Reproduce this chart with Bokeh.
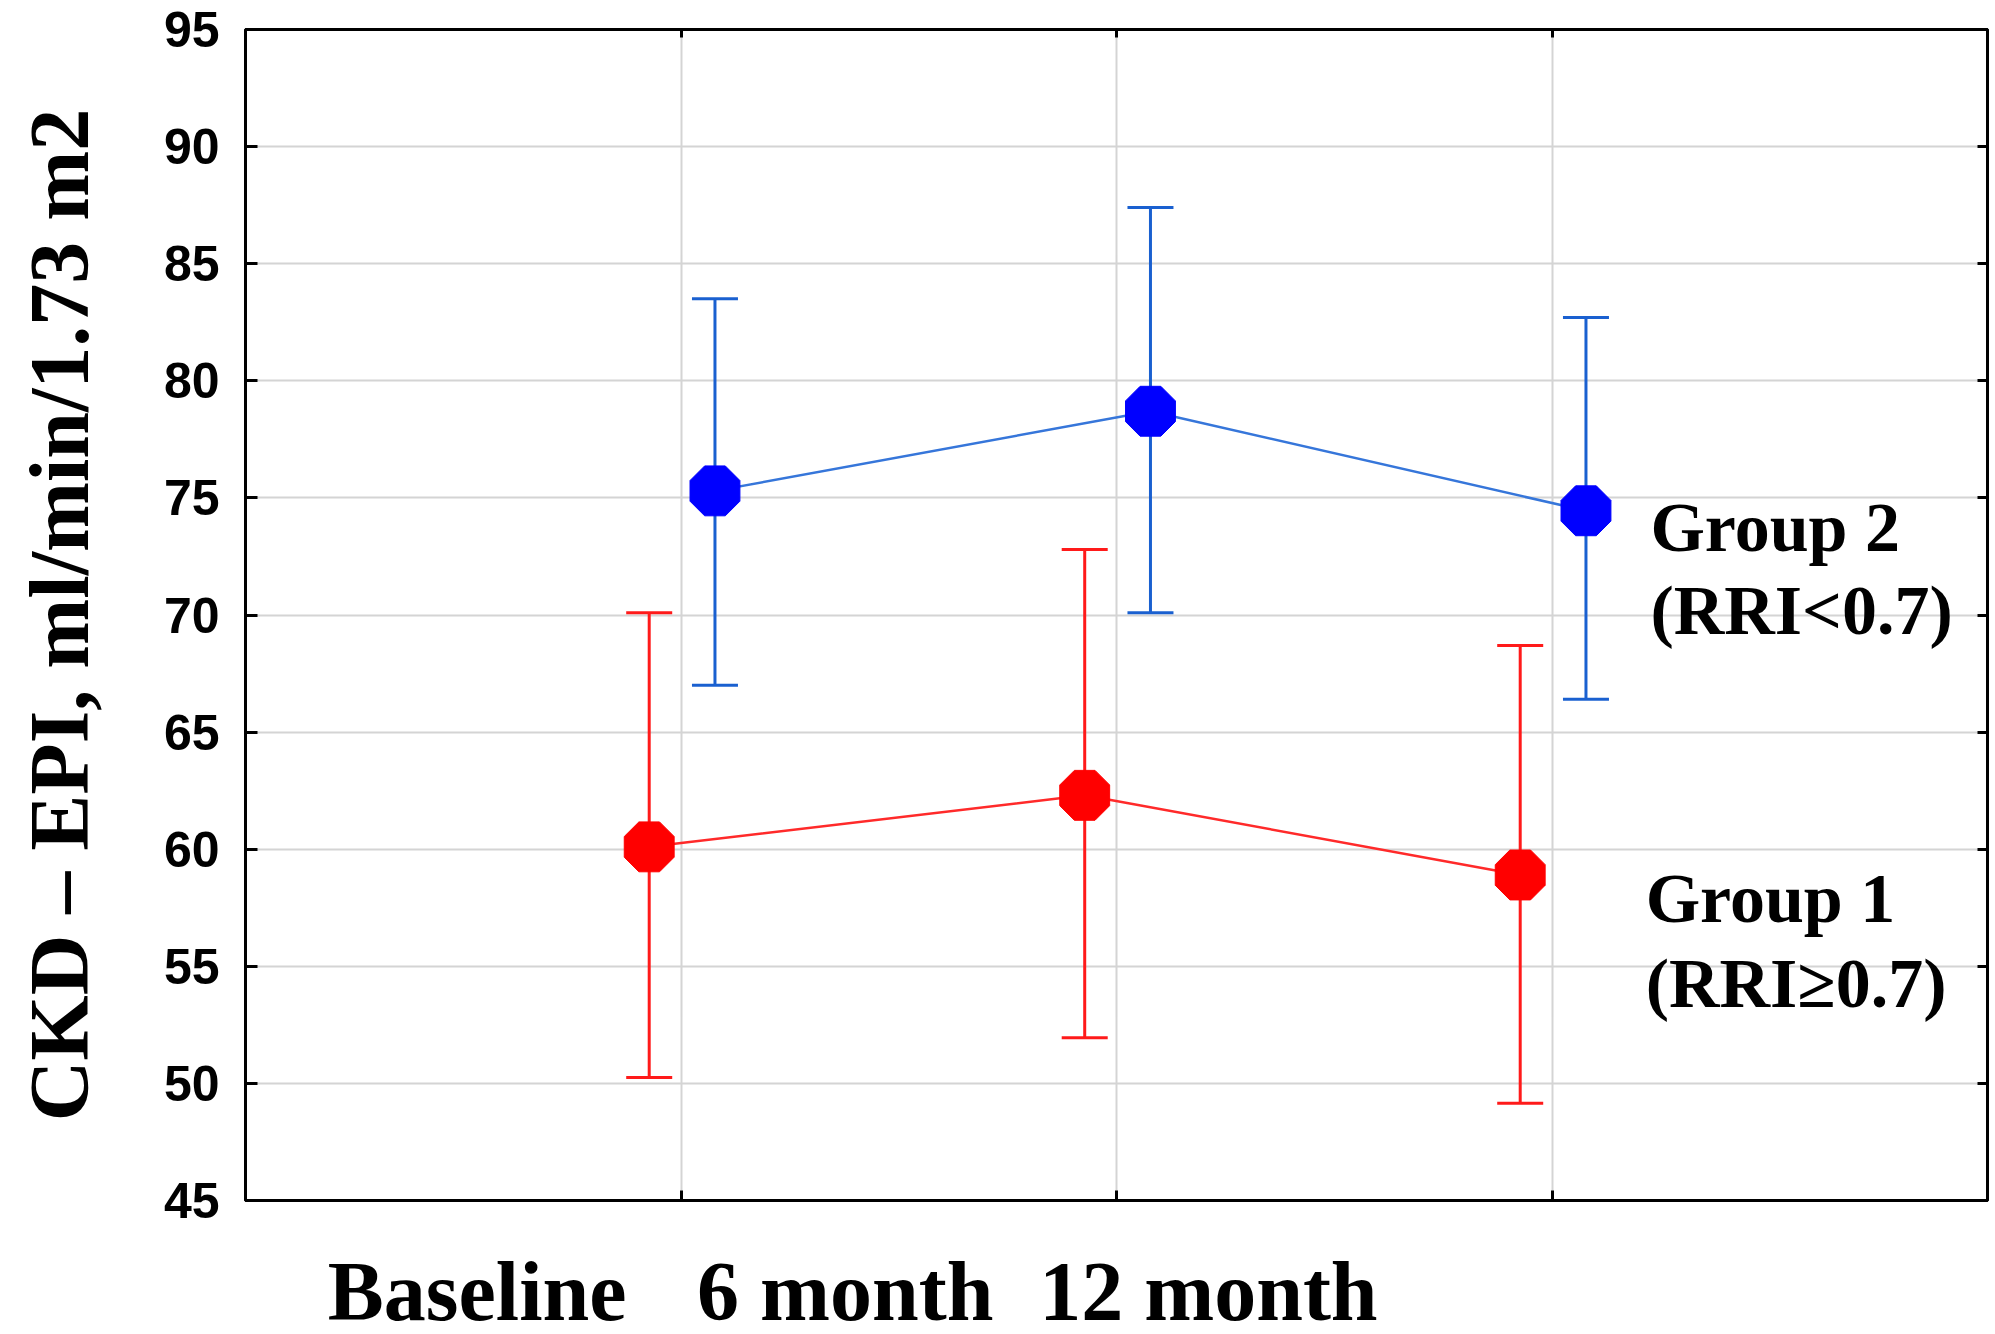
from math import pi
from bokeh.plotting import figure
from bokeh.models import (ColumnDataSource, Range1d, FixedTicker, LinearAxis,
                          Whisker, TeeHead)
from bokeh.core.properties import value
from bokeh.embed import file_html
from bokeh.resources import INLINE

# ---------------- data ----------------
timepoints = ["Baseline", "6 month", "12 month"]
time_index = [1, 2, 3]

g1_mean = [60.1, 62.3, 58.9]
g1_upper = [70.1, 72.8, 68.7]
g1_lower = [50.25, 51.95, 49.15]

g2_mean = [75.3, 78.7, 74.45]
g2_upper = [83.5, 87.4, 82.7]
g2_lower = [67.0, 70.1, 66.4]

y_ticks = [45, 50, 55, 60, 65, 70, 75, 80, 85, 90, 95]

group_label_lines = ["Group 2", "(RRI<0.7)", "Group 1", "(RRI\u22650.7)"]
y_title = "CKD \u2013 EPI, ml/min/1.73 m2"

# ---------------- layout constants ----------------
G1_SHIFT = -0.073
G2_SHIFT = 0.078
label_x = [3.226, 3.226, 3.215, 3.215]
label_y = [73.75, 70.2, 57.88, 54.25]
cat_label_x = [0.532, 1.377, 2.211]

SERIF_NAME = "Liberation Serif"
SERIF = value(SERIF_NAME)
SANS = "Liberation Sans"

BLUE_M = "#0000ff"
BLUE_L = "#1a60d0"
RED_M = "#ff0000"
RED_L = "#ff1a1a"

p = figure(frame_width=1742, frame_height=1171,
           x_range=Range1d(0, 4), y_range=Range1d(45, 95),
           output_backend="svg", toolbar_location=None,
           min_border_left=245, min_border_top=29,
           min_border_bottom=133, min_border_right=6,
           background_fill_color="white", border_fill_color="white")

p.outline_line_color = "black"
p.outline_line_width = 3

# bottom axis: category captions; inward minor ticks at the time points
xa = p.xaxis[0]
xa.ticker = FixedTicker(ticks=cat_label_x, minor_ticks=time_index)
xa.major_label_overrides = dict(zip(cat_label_x, timepoints))
xa.major_label_text_font = SERIF_NAME
xa.major_label_text_font_style = "bold"
xa.major_label_text_font_size = "84px"
xa.major_label_text_color = "black"
xa.major_label_standoff = 38
xa.major_tick_line_color = None
xa.minor_tick_in = 10
xa.minor_tick_out = 0
xa.minor_tick_line_width = 3
xa.minor_tick_line_color = "black"
xa.axis_line_width = 3

ya = p.yaxis[0]
ya.ticker = FixedTicker(ticks=y_ticks)
ya.major_label_text_font = SANS
ya.major_label_text_font_style = "bold"
ya.major_label_text_font_size = "50px"
ya.major_label_text_color = "black"
ya.major_label_standoff = 26
ya.major_tick_in = 12
ya.major_tick_out = 0
ya.minor_tick_line_color = None
ya.axis_line_width = 3
ya.major_tick_line_width = 3
ya.axis_label = y_title
ya.axis_label_text_font = SERIF_NAME
ya.axis_label_text_font_style = "bold"
ya.axis_label_text_font_size = "84px"
ya.axis_label_text_color = "black"
ya.axis_label_standoff = 55

top = LinearAxis(ticker=FixedTicker(ticks=time_index))
top.major_label_overrides = {t: "" for t in time_index}
top.major_label_text_font_size = "6px"
top.major_label_standoff = 0
top.major_tick_in = 8
top.major_tick_out = 0
top.minor_tick_line_color = None
top.axis_line_width = 3
top.major_tick_line_width = 3
p.add_layout(top, "above")

right = LinearAxis(ticker=FixedTicker(ticks=y_ticks))
right.major_label_overrides = {t: "" for t in y_ticks}
right.major_label_text_font_size = "6px"
right.major_label_standoff = 0
right.major_tick_in = 10
right.major_tick_out = 0
right.minor_tick_line_color = None
right.axis_line_width = 3
right.major_tick_line_width = 3
p.add_layout(right, "right")

p.xgrid.ticker = FixedTicker(ticks=time_index)
p.xgrid.grid_line_color = "#d4d4d4"
p.xgrid.grid_line_width = 2
p.ygrid.grid_line_color = "#d4d4d4"
p.ygrid.grid_line_width = 2

src1 = ColumnDataSource(dict(x=[t + G1_SHIFT for t in time_index],
                             mean=g1_mean, upper=g1_upper, lower=g1_lower))
src2 = ColumnDataSource(dict(x=[t + G2_SHIFT for t in time_index],
                             mean=g2_mean, upper=g2_upper, lower=g2_lower))

for src, lc in ((src1, RED_L), (src2, BLUE_L)):
    w = Whisker(source=src, base="x", upper="upper", lower="lower",
                line_color=lc, line_width=3,
                upper_head=TeeHead(size=46, line_color=lc, line_width=3),
                lower_head=TeeHead(size=46, line_color=lc, line_width=3))
    p.add_layout(w)

p.line("x", "mean", source=src1, line_color="#ff2a2a", line_width=2.5)
p.line("x", "mean", source=src2, line_color="#3676da", line_width=2.5)

for src, mc in ((src1, RED_M), (src2, BLUE_M)):
    try:
        p.ngon(x="x", y="mean", radius=27, radius_units="screen", n=8,
               angle=pi / 8, fill_color=mc, line_color=mc, source=src)
    except Exception:
        p.scatter("x", "mean", size=52, marker="circle", fill_color=mc,
                  line_color=mc, source=src)

lab_src = ColumnDataSource(dict(x=label_x, y=label_y, text=group_label_lines))
p.text("x", "y", text="text", source=lab_src, text_font=SERIF,
       text_font_style="bold", text_font_size="70px", text_color="black",
       text_align="left", text_baseline="alphabetic")

open("out.html", "w").write(file_html(p, INLINE))
